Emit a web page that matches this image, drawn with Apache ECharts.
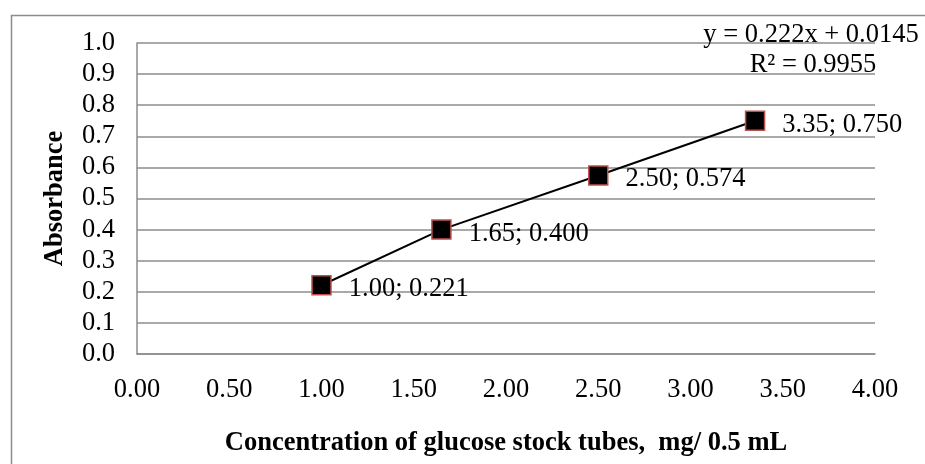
<!DOCTYPE html>
<html>
<head>
<meta charset="utf-8">
<script src="https://cdn.jsdelivr.net/npm/echarts@6/dist/echarts.min.js"></script>
<style>
  html, body { margin: 0; padding: 0; background: #fff; }
  #chart { width: 925px; height: 464px; }
</style>
</head>
<body>
<div id="chart"></div>
<script>
// Glucose standard curve: absorbance vs concentration
const concentrations = [1.00, 1.65, 2.50, 3.35];
const absorbances = [0.221, 0.400, 0.574, 0.750];
const xTicks = { min: 0, max: 4, interval: 0.5 };
const yTicks = { min: 0, max: 1, interval: 0.1 };
const equationText = 'y = 0.222x + 0.0145';
const rSquaredText = 'R² = 0.9955';
const xTitle = 'Concentration of glucose stock tubes,  mg/ 0.5 mL';
const yTitle = 'Absorbance';

const FONT = '"Liberation Serif", "Times New Roman", serif';
const FONT_SIZE = 26.5;
const GRID_COLOR = '#8c8c8c';

const points = concentrations.map((c, i) => [c, absorbances[i]]);

const chart = echarts.init(document.getElementById('chart'), null, { renderer: 'canvas' });

chart.setOption({
  animation: false,
  backgroundColor: '#fff',
  grid: { left: 137, right: 50, top: 43, bottom: 110, containLabel: false },
  xAxis: {
    type: 'value',
    min: xTicks.min, max: xTicks.max, interval: xTicks.interval,
    name: xTitle,
    nameLocation: 'middle',
    nameGap: 76,
    nameTextStyle: { fontFamily: FONT, fontSize: FONT_SIZE, fontWeight: 'bold', color: '#000' },
    axisLine: { show: true, lineStyle: { color: GRID_COLOR, width: 1.5 } },
    axisTick: { show: false },
    splitLine: { show: false },
    axisLabel: {
      margin: 23, color: '#000', fontFamily: FONT, fontSize: FONT_SIZE,
      formatter: v => v.toFixed(2)
    }
  },
  yAxis: {
    type: 'value',
    min: yTicks.min, max: yTicks.max, interval: yTicks.interval,
    name: yTitle,
    nameLocation: 'middle',
    nameGap: 68,
    nameRotate: 90,
    nameTextStyle: { fontFamily: FONT, fontSize: FONT_SIZE, fontWeight: 'bold', color: '#000' },
    axisLine: { show: true, lineStyle: { color: GRID_COLOR, width: 1.5 } },
    axisTick: { show: false },
    splitLine: { show: true, lineStyle: { color: GRID_COLOR, width: 1.5 } },
    axisLabel: {
      margin: 22, color: '#000', fontFamily: FONT, fontSize: FONT_SIZE,
      formatter: v => v.toFixed(1)
    }
  },
  graphic: [
    {
      type: 'rect',
      left: 9, top: 13,
      shape: { width: 1000, height: 1000 },
      style: { fill: 'none', stroke: GRID_COLOR, lineWidth: 1.5 },
      silent: true, z: -1
    },
    {
      type: 'text',
      x: 811, y: 35,
      style: {
        text: equationText, fontFamily: FONT, fontSize: FONT_SIZE, fill: '#000',
        align: 'center', verticalAlign: 'middle'
      },
      z: 10
    },
    {
      type: 'text',
      x: 813, y: 65,
      style: {
        text: rSquaredText, fontFamily: FONT, fontSize: FONT_SIZE, fill: '#000',
        align: 'center', verticalAlign: 'middle'
      },
      z: 10
    }
  ],
  series: [
    {
      type: 'line',
      data: points,
      symbol: 'rect',
      symbolSize: 19,
      showAllSymbol: true,
      lineStyle: { color: '#000', width: 2 },
      itemStyle: { color: '#000', borderColor: '#c0504d', borderWidth: 1.5 },
      label: {
        show: true,
        position: 'right',
        distance: 17,
        offset: [0, 4],
        fontFamily: FONT,
        fontSize: FONT_SIZE,
        color: '#000',
        formatter: p => p.value[0].toFixed(2) + '; ' + p.value[1].toFixed(3)
      },
      z: 5
    }
  ]
});
</script>
</body>
</html>
